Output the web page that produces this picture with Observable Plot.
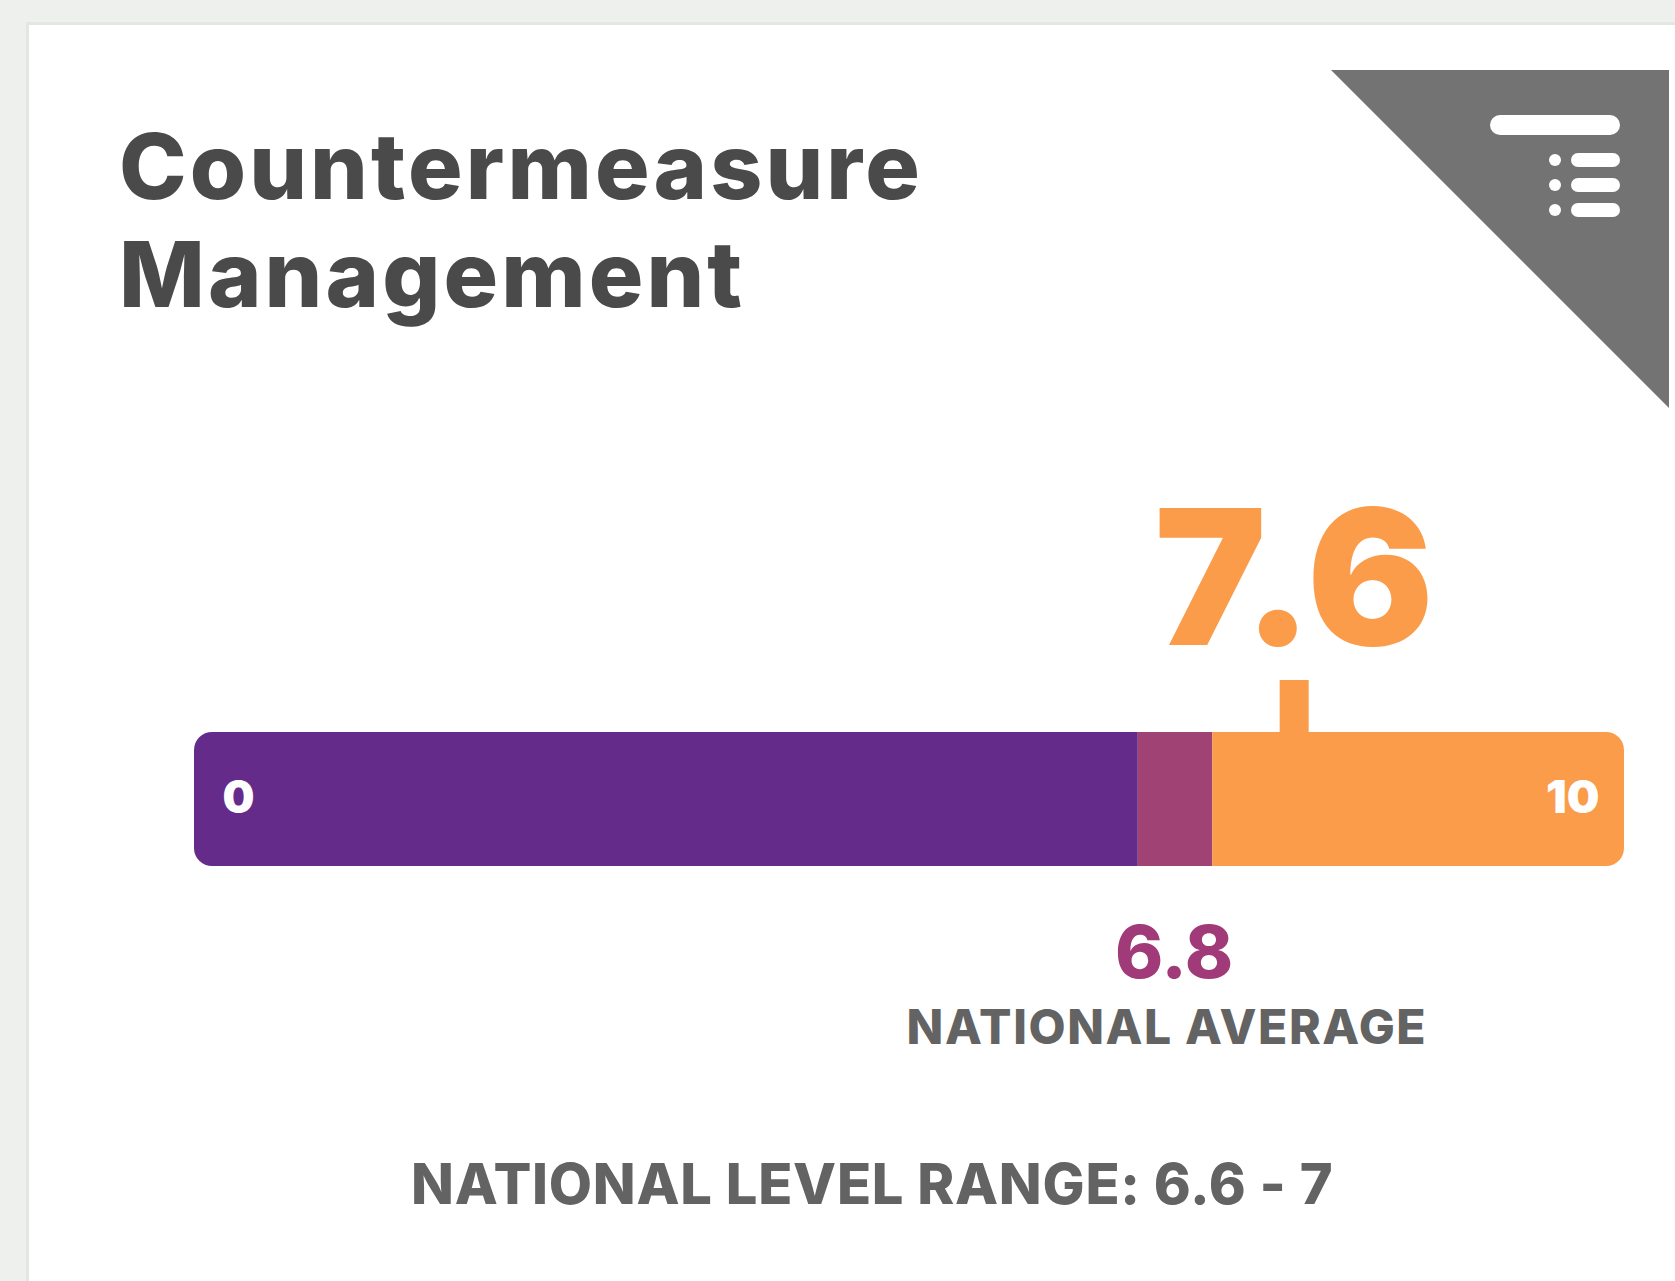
<!DOCTYPE html>
<html>
<head>
<meta charset="utf-8">
<script src="https://cdn.jsdelivr.net/npm/d3@7"></script>
<script src="https://cdn.jsdelivr.net/npm/@observablehq/plot@0.6"></script>
<style>
html,body{margin:0;padding:0;width:1675px;height:1281px;overflow:hidden;background:#eef0ee;font-family:Inter,"Noto Sans",sans-serif;}
#card{position:absolute;left:26px;top:22px;width:1649px;height:1259px;background:#fff;border-left:3px solid #e4e6e4;border-top:3px solid #e4e6e4;box-sizing:border-box;}
#title{position:absolute;left:119px;top:112px;margin:0;font-size:91px;line-height:108px;font-weight:800;color:#4a4a4a;letter-spacing:3.1px;}
#range{position:absolute;left:411px;top:1150px;margin:0;font-size:56px;line-height:68px;font-weight:800;color:#636363;white-space:nowrap;letter-spacing:.75px;}
#corner{position:absolute;left:1331px;top:70px;}
#chart{position:absolute;left:0;top:400px;}
#chart svg{display:block;}
</style>
</head>
<body>
<div id="card"></div>
<h1 id="title">Countermeasure<br>Management</h1>
<svg id="corner" width="338" height="338" viewBox="0 0 338 338">
  <polygon points="0,0 338,0 338,338" fill="#737373"/>
  <rect x="159" y="45" width="130" height="20" rx="10" fill="#fff"/>
  <circle cx="224" cy="90" r="6" fill="#fff"/><rect x="240" y="83" width="49" height="14" rx="7" fill="#fff"/>
  <circle cx="224" cy="115" r="6" fill="#fff"/><rect x="240" y="108" width="49" height="14" rx="7" fill="#fff"/>
  <circle cx="224" cy="140" r="6" fill="#fff"/><rect x="240" y="133" width="49" height="14" rx="7" fill="#fff"/>
</svg>
<div id="chart"></div>
<p id="range">NATIONAL LEVEL RANGE: 6.6 - 7</p>
<script>
const segmentStart = [0, 6.6, 7.12];
const segmentEnd = [6.6, 7.12, 10];
const segmentColor = ["#652b8a", "#a04274", "#fb9c4b"];
const scoreLabel = "7.6";
const scorePosition = 7.69;
const averageLabel = "6.8";
const averagePosition = 6.85;
const averageCaption = "NATIONAL AVERAGE";
const captionPosition = 6.8;
const endLabels = ["0", "10"];
const endPositions = [0, 10];

const segments = segmentStart.map((s, i) => ({s, e: segmentEnd[i], c: segmentColor[i]}));
const H = 700, top0 = 400;
const barTop = 732 - top0, barBottom = H - (866 - top0);

const plot = Plot.plot({
  width: 1675, height: H,
  marginLeft: 0, marginRight: 0, marginTop: 0, marginBottom: 0,
  x: {domain: [0, 10], range: [194, 1624], axis: null},
  marks: [
    Plot.ruleX([scorePosition], {stroke: segmentColor[2], strokeWidth: 29, insetTop: 680 - top0, insetBottom: H - (733 - top0)}),
    Plot.barX(segments.slice(0,1), {x1: "s", x2: "e", fill: "c", insetTop: barTop, insetBottom: barBottom, rx1: 18}),
    Plot.barX(segments.slice(1,2), {x1: "s", x2: "e", fill: "c", insetTop: barTop, insetBottom: barBottom}),
    Plot.barX(segments.slice(2), {x1: "s", x2: "e", fill: "c", insetTop: barTop, insetBottom: barBottom, rx2: 18}),
    Plot.text([scoreLabel], {x: scorePosition, text: d => d, frameAnchor: "top", lineAnchor: "bottom", dy: 644 - top0, fontSize: 188, fontWeight: 900, fill: segmentColor[2], fontFamily: "Inter"}),
    Plot.text([averageLabel], {x: averagePosition, text: d => d, frameAnchor: "top", lineAnchor: "bottom", dy: 977 - top0, fontSize: 73, fontWeight: 800, fill: "#a03a78", fontFamily: "Inter"}),
    Plot.text([averageCaption], {x: captionPosition, text: d => d, frameAnchor: "top", lineAnchor: "bottom", dy: 1043 - top0, fontSize: 48, fontWeight: 800, fill: "#636363", fontFamily: "Inter"}),
    Plot.text([endLabels[0]], {x: endPositions[0], text: d => d, textAnchor: "middle", frameAnchor: "top", lineAnchor: "bottom", dx: 44, dy: 812 - top0, fontSize: 45, fontWeight: 900, fill: "#fff", fontFamily: "Inter"}),
    Plot.text([endLabels[1]], {x: endPositions[1], text: d => d, textAnchor: "end", frameAnchor: "top", lineAnchor: "bottom", dx: -25, dy: 812 - top0, fontSize: 46, fontWeight: 900, fill: "#fff", fontFamily: "Inter"})
  ]
});
plot.style.background = "transparent";
plot.querySelectorAll("text").forEach(t => { if (t.textContent === averageCaption) t.style.letterSpacing = "1.6px"; });
document.getElementById("chart").appendChild(plot);
</script>
</body>
</html>
